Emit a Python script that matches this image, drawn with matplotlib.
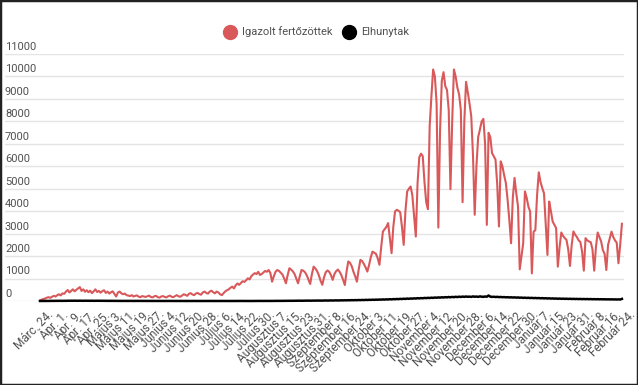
# plot.py
# Napi igazolt fertőzöttek és elhunytak, 2020. márc. 24. - 2021. febr. 24.
import matplotlib
matplotlib.use("Agg")
import matplotlib.pyplot as plt
import matplotlib.transforms as mtransforms
from matplotlib.lines import Line2D
from matplotlib.patches import Rectangle

# --- Data (one row = 7 days) ---
CASES = [
    20, 60, 90, 110, 150, 170, 140,
    190, 230, 200, 260, 300, 250, 340,
    320, 420, 490, 380, 450, 520, 430,
    500, 560, 620, 450, 520, 410, 480,
    390, 460, 350, 430, 520, 400, 450,
    370, 440, 480, 360, 420, 330, 390,
    430, 310, 200, 380, 420, 340, 300,
    330, 260, 240, 220, 260, 200, 230,
    250, 190, 170, 220, 200, 180, 210,
    240, 180, 160, 210, 230, 170, 150,
    200, 220, 180, 160, 210, 240, 190,
    170, 220, 260, 210, 190, 240, 300,
    270, 230, 320, 350, 290, 260, 330,
    360, 310, 280, 380, 420, 360, 330,
    420, 460, 390, 340, 420, 380, 300,
    260, 350, 430, 480, 520, 590, 640,
    560, 700, 780, 720, 800, 880, 850,
    920, 1010, 960, 1100, 1180, 1240, 1200,
    1300, 1160, 1200, 1270, 1340, 1300, 1380,
    1250, 860, 1100, 1300, 1380, 1340, 1260,
    1180, 1000, 790, 1150, 1460, 1400, 1320,
    1200, 1000, 790, 1100, 1380, 1350, 1280,
    1150, 950, 760, 1200, 1530, 1450, 1330,
    1150, 900, 720, 1050, 1280, 1360, 1300,
    1150, 940, 1200, 1330, 1400, 1300, 1150,
    950, 710, 1300, 1760, 1700, 1550, 1300,
    1100, 860, 1400, 1830, 1780, 1650, 1500,
    1310, 1600, 1950, 2200, 2150, 2100, 1900,
    1610, 2400, 3090, 3200, 3300, 3470, 2800,
    2130, 3300, 3990, 4060, 4020, 3950, 3300,
    2500, 4000, 4880, 5000, 5100, 4700, 3800,
    2870, 5250, 6400, 6560, 6450, 5300, 4400,
    4090, 7780, 9120, 10310, 10000, 8800, 3270,
    7600, 9800, 10190, 9570, 9400, 8500, 4980,
    8000, 10310, 10000, 9500, 9200, 8500, 4400,
    8000, 9760, 9300, 8800, 8230, 6500, 3840,
    6000, 7300, 7630, 8000, 8110, 7000, 3390,
    7490, 7300, 6590, 6450, 6300, 5200, 3320,
    6220, 6000, 5600, 5250, 4500, 3600, 2570,
    4600, 5480, 4800, 4210, 1410, 2000, 2570,
    4880, 4600, 4200, 3990, 1230, 3090, 3150,
    4700, 5730, 5300, 5030, 4800, 3400, 2050,
    4430, 4000, 3540, 3400, 3250, 1530, 2400,
    3050, 2900, 2800, 2720, 2300, 1560, 2500,
    3100, 2950, 2850, 2700, 2630, 2200, 1350,
    2800, 2700, 2650, 2620, 2300, 1350, 2400,
    3050, 2850, 2650, 2270, 2100, 1380, 2500,
    2800, 3090, 2850, 2700, 2600, 1680, 2500,
    3440,
]

DEATHS = [
    1, 2, 1, 3, 2, 1, 4,
    5, 3, 6, 4, 5, 8, 6,
    9, 7, 12, 10, 13, 11, 14,
    12, 10, 13, 11, 9, 12, 10,
    11, 9, 12, 8, 10, 9, 11,
    8, 10, 7, 9, 6, 8, 7,
    6, 5, 7, 4, 6, 5, 3,
    4, 5, 3, 4, 2, 3, 4,
    3, 2, 4, 3, 2, 3, 1,
    2, 3, 1, 2, 1, 2, 1,
    1, 2, 0, 1, 2, 1, 0,
    1, 0, 1, 2, 0, 1, 0,
    1, 0, 1, 0, 2, 1, 0,
    0, 1, 0, 1, 0, 1, 0,
    1, 0, 0, 1, 0, 1, 0,
    0, 1, 0, 1, 0, 0, 1,
    0, 1, 0, 1, 2, 1, 0,
    1, 2, 1, 0, 1, 2, 1,
    2, 3, 1, 2, 4, 3, 2,
    4, 3, 5, 4, 6, 5, 4,
    6, 8, 7, 9, 8, 10, 9,
    11, 10, 12, 14, 11, 13, 15,
    14, 17, 13, 16, 18, 15, 19,
    18, 21, 17, 20, 23, 19, 22,
    25, 21, 24, 28, 23, 26, 30,
    27, 32, 29, 35, 31, 38, 34,
    40, 36, 43, 39, 47, 42, 50,
    46, 54, 49, 58, 52, 61, 56,
    65, 60, 70, 63, 74, 68, 80,
    72, 85, 78, 90, 83, 96, 88,
    102, 94, 108, 99, 112, 105, 118,
    110, 125, 116, 130, 121, 137, 128,
    142, 133, 148, 139, 155, 145, 160,
    150, 166, 156, 172, 161, 178, 165,
    182, 170, 188, 175, 193, 180, 197,
    185, 200, 188, 195, 182, 204, 190,
    198, 184, 205, 192, 186, 200, 190,
    245, 195, 182, 190, 178, 186, 172,
    180, 168, 175, 162, 170, 158, 165,
    155, 162, 150, 158, 146, 152, 140,
    148, 136, 144, 132, 140, 128, 136,
    125, 132, 120, 128, 116, 124, 112,
    120, 108, 115, 104, 112, 100, 108,
    98, 105, 95, 102, 92, 99, 90,
    96, 88, 94, 85, 92, 83, 90,
    82, 88, 80, 86, 78, 84, 76,
    82, 75, 80, 73, 78, 71, 76,
    70, 75, 68, 73, 66, 72, 65,
    95,
]

TICK_LABELS = [
    "Márc. 24.", "Ápr. 1.", "Ápr. 9.", "Ápr. 17.", "Ápr. 25.",
    "Május 3.", "Május 11.", "Május 19.", "Május 27.",
    "Június 4.", "Június 12.", "Június 20.", "Június 28.",
    "Július 6.", "Július 14.", "Július 22.", "Július 30.",
    "Augusztus 7.", "Augusztus 15.", "Augusztus 23.", "Augusztus 31.",
    "Szeptember 8.", "Szeptember 16.", "Szeptember 24.",
    "Október 3.", "Október 11.", "Október 19.", "Október 27.",
    "November 4.", "November 12.", "November 20.", "November 28.",
    "December 6.", "December 14.", "December 22.", "December 30.",
    "Január 7.", "Január 15.", "Január 23.", "Január 31.",
    "Február 8.", "Február 16.", "Február 24.",
]
TICK_STEP = 8
Y_TICKS = list(range(0, 11001, 1000))

RED = "#d9595b"
TEXT = "#505050"
GRID = "#e4e4e4"

plt.rcParams["font.family"] = ["Roboto", "DejaVu Sans"]

fig = plt.figure(figsize=(6.38, 3.85), dpi=100)
ax = fig.add_axes([5 / 638, (385 - 301) / 385, 619 / 638, 247 / 385])

x = list(range(len(CASES)))
ax.plot(x, CASES, color=RED, linewidth=1.5, solid_joinstyle="round",
        clip_on=False, zorder=3)
ax.plot(x, DEATHS, color="black", linewidth=1.8, clip_on=False, zorder=4)

ax.set_xlim(-20.2, 337.2)
ax.set_ylim(0, 11000)

# horizontal gridlines with labels sitting just above them
for v in Y_TICKS:
    ax.axhline(v, color=GRID, linewidth=1.0, zorder=1)
ytrans = ax.get_yaxis_transform() + mtransforms.ScaledTranslation(0, 1.5 / 72, fig.dpi_scale_trans)
for v in Y_TICKS:
    ax.text(0, v, str(v), transform=ytrans, ha="left", va="bottom",
            fontsize=8, color=TEXT)
ax.set_yticks([])

ticks = list(range(0, len(CASES), TICK_STEP))
ax.set_xticks(ticks)
ax.set_xticklabels(TICK_LABELS, rotation=45, ha="right", va="top",
                   rotation_mode="anchor", fontsize=8.5, color=TEXT)
ax.tick_params(axis="x", length=0, pad=5)
shift = mtransforms.ScaledTranslation(5 / 72, 0, fig.dpi_scale_trans)
for lab in ax.get_xticklabels():
    lab.set_transform(lab.get_transform() + shift)

for s in ax.spines.values():
    s.set_visible(False)

handles = [
    Line2D([], [], linestyle="none", marker="o", markersize=10,
           markerfacecolor=RED, markeredgecolor=RED),
    Line2D([], [], linestyle="none", marker="o", markersize=10,
           markerfacecolor="black", markeredgecolor="black"),
]
fig.legend(handles, ["Igazolt fertőzöttek", "Elhunytak"], loc="center",
           bbox_to_anchor=(0.496, 0.917), ncol=2, frameon=False,
           fontsize=8, labelcolor=TEXT, handletextpad=0.5,
           columnspacing=0.9, handlelength=1.2)

fig.patches.append(Rectangle((0, 0), 1, 1, transform=fig.transFigure,
                             fill=False, edgecolor="#222222", linewidth=2.5))

fig.savefig("out.png", dpi=100)
